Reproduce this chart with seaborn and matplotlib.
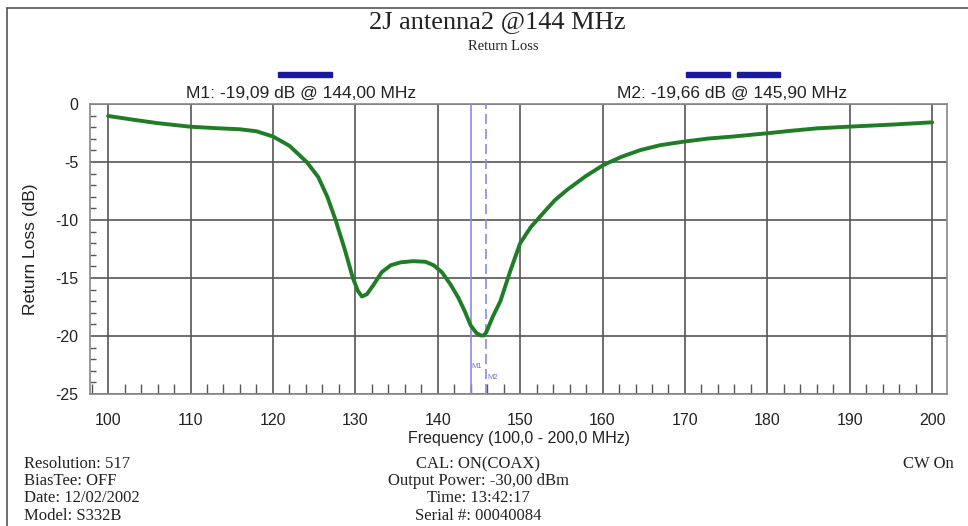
import matplotlib
matplotlib.use("Agg")
import matplotlib.pyplot as plt
import seaborn as sns
import pandas as pd
from matplotlib.ticker import MultipleLocator

freq = [100.0, 103.0, 106.0, 110.0, 113.0, 116.0, 118.0, 120.0, 122.0, 124.1, 125.5, 126.6,
        127.6, 128.7, 129.7, 130.3, 130.8, 131.4, 132.2, 133.2, 134.3, 135.5, 137.0, 138.5,
        139.5, 140.5, 141.5, 142.5, 143.3, 144.0, 144.7, 145.2, 145.6, 145.9, 146.7, 147.6,
        148.8, 150.0, 151.3, 152.8, 154.2, 155.7, 158.0, 160.1, 162.3, 164.6, 167.0, 169.8,
        172.8, 175.9, 179.9, 183.0, 186.0, 190.0, 195.0, 200.0]
loss = [-1.03, -1.35, -1.65, -1.96, -2.08, -2.18, -2.35, -2.8, -3.6, -5.0, -6.3, -8.0,
        -10.0, -12.5, -15.0, -16.1, -16.6, -16.4, -15.6, -14.5, -13.9, -13.65, -13.55, -13.6,
        -13.9, -14.5, -15.5, -16.7, -17.9, -19.09, -19.75, -19.95, -19.95, -19.66, -18.3, -17.0,
        -14.4, -12.0, -10.6, -9.4, -8.3, -7.4, -6.2, -5.26, -4.55, -3.97, -3.55, -3.25,
        -2.98, -2.8, -2.53, -2.3, -2.1, -1.95, -1.78, -1.58]

x_ticks = [100, 110, 120, 130, 140, 150, 160, 170, 180, 190, 200]
y_ticks = [0, -5, -10, -15, -20, -25]
markers = {"M1": 144.0, "M2": 145.9}

title = "2J antenna2 @144 MHz"
subtitle = "Return Loss"
m1_text = "M1: -19,09 dB @ 144,00 MHz"
m2_text = "M2: -19,66 dB @ 145,90 MHz"
left_info = ["Resolution: 517", "BiasTee: OFF", "Date: 12/02/2002", "Model: S332B"]
center_info = ["CAL: ON(COAX)", "Output Power: -30,00 dBm", "Time: 13:42:17", "Serial #: 00040084"]

sns.set_theme(style="white")
plt.rcParams['font.family'] = ['Liberation Sans', 'DejaVu Sans']

fig = plt.figure(figsize=(9.68, 5.26), dpi=100)
ax = fig.add_axes([90/968, 1-394/526, (947-90)/968, (394-104)/526])

df = pd.DataFrame({"Frequency": freq, "Return Loss": loss})
sns.lineplot(data=df, x="Frequency", y="Return Loss", ax=ax, color="#1e7d26",
             linewidth=2.8, zorder=5)

ax.set_xlim(97.8, 201.8)
ax.set_ylim(-25, 0)
ax.set_xticks(x_ticks)
ax.set_yticks(y_ticks)
ax.set_yticklabels([str(v) for v in y_ticks], fontsize=11.5)
ax.set_xticklabels([str(v) for v in x_ticks], fontsize=11.5)
ax.xaxis.set_minor_locator(MultipleLocator(2))
ax.yaxis.set_minor_locator(MultipleLocator(1))
ax.tick_params(axis="x", which="major", direction="out", length=10, width=1.1,
               color="#444444", pad=4, labelcolor="#222222")
ax.tick_params(axis="y", which="major", direction="out", length=5, width=1.1,
               color="#444444", pad=3.5, labelcolor="#222222")
ax.tick_params(axis="x", which="minor", direction="in", length=7, width=1, color="#555555",
               bottom=True)
ax.tick_params(axis="y", which="minor", direction="in", length=4.5, width=1, color="#555555",
               left=True)
ax.grid(True, which="major", color="#555555", linewidth=1.2)
for s in ax.spines.values():
    s.set_color("#888888")
    s.set_linewidth(1.2)

for name, xv in markers.items():
    ls = "-" if name == "M1" else (0, (6, 3))
    ax.axvline(xv, color="#8a8ae6", linewidth=1.2, linestyle=ls, zorder=4)
ax.text(markers["M1"] + 0.1, -22.6, "M1", fontsize=5.5, color="#7070d8", ha="left", va="center")
ax.text(markers["M2"] + 0.1, -23.6, "M2", fontsize=5.5, color="#7070d8", ha="left", va="center")

ax.set_xlabel("Frequency (100,0 - 200,0 MHz)", fontsize=11.5, color="#222222", labelpad=2)
ax.set_ylabel("Return Loss (dB)", fontsize=12.5, color="#222222", labelpad=12)

serif = ["Liberation Serif", "DejaVu Serif"]
fig.text(497/968, 1-22/526, title, family=serif, fontsize=19,
         ha="center", va="center", color="#222222")
fig.text(503/968, 1-46/526, subtitle, family=serif, fontsize=10.5,
         ha="center", va="center", color="#222222")

fig.text(301/968, 1-93/526, m1_text, fontsize=12.5, ha="center", va="center", color="#222222")
fig.text(732/968, 1-93/526, m2_text, fontsize=12.5, ha="center", va="center", color="#222222")
for (x0, x1) in [(278, 332), (686, 730), (737, 780)]:
    fig.add_artist(plt.Rectangle((x0/968, 1-77/526), (x1-x0)/968, 5/526,
                                 transform=fig.transFigure, color="#1a1a9a"))

ys = [464, 481, 498, 516]
for t, y in zip(left_info, ys):
    fig.text(24/968, 1-y/526, t, family=serif, fontsize=12, ha="left", va="center", color="#222222")
for t, y in zip(center_info, ys):
    fig.text(478/968, 1-y/526, t, family=serif, fontsize=12, ha="center", va="center", color="#222222")
fig.text(903/968, 1-464/526, "CW On", family=serif, fontsize=12, ha="left", va="center", color="#222222")

fig.add_artist(plt.Line2D([7/968, 7/968], [0, 1-8/526], transform=fig.transFigure, color="#555555", lw=1.2))
fig.add_artist(plt.Line2D([7/968, 1], [1-8/526, 1-8/526], transform=fig.transFigure, color="#555555", lw=1.2))

fig.savefig("out.png", dpi=100)
